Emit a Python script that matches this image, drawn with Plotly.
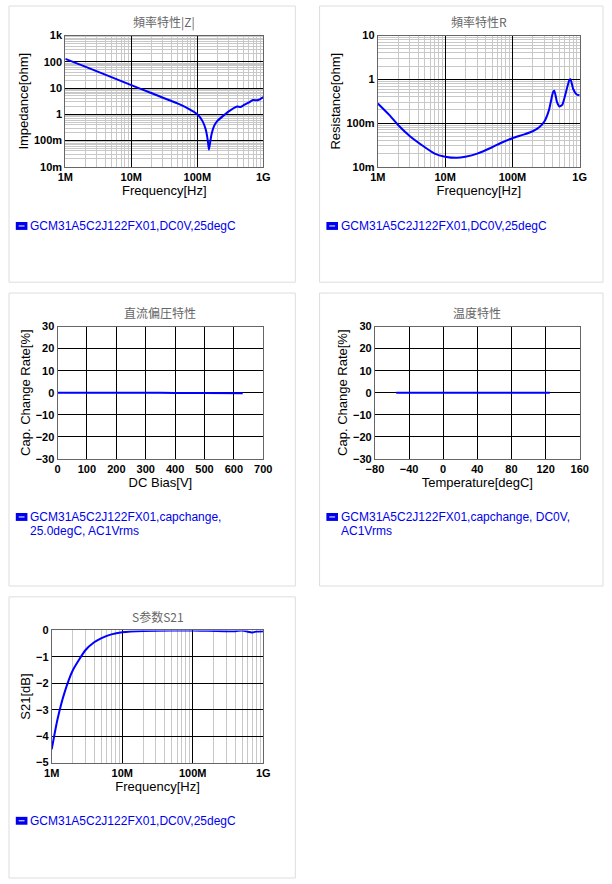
import plotly.graph_objects as go

W, H = 612, 884

z_freq = [1e6, 2e6, 5e6, 1e7, 2e7, 5e7, 8e7, 1e8, 1.2e8, 1.35e8, 1.45e8, 1.5e8, 1.56e8, 1.65e8, 1.8e8, 2e8,
          2.5e8, 3e8, 4e8, 4.5e8, 5e8, 6e8, 7e8, 8e8, 9e8, 1e9]
z_val = [130, 66, 26, 13, 6.5, 2.6, 1.45, 1.0, 0.55, 0.25, 0.09, 0.045, 0.08, 0.18, 0.36, 0.55,
         0.9, 1.3, 2.0, 1.9, 2.2, 2.8, 3.5, 3.4, 3.8, 4.5]

r_freq = [1e6, 1.5e6, 2e6, 3e6, 5e6, 7e6, 1e7, 1.5e7, 2e7, 3e7, 5e7, 7e7, 1e8, 1.5e8, 2e8,
          2.5e8, 3e8, 3.5e8, 4e8, 4.2e8, 4.6e8, 5e8, 5.5e8, 6e8, 7e8, 7.3e8, 8e8, 9e8, 1e9]
r_val = [0.28, 0.15, 0.09, 0.05, 0.028, 0.02, 0.017, 0.016, 0.017, 0.02, 0.028, 0.036, 0.045,
         0.055, 0.065, 0.08, 0.11, 0.2, 0.5, 0.55, 0.3, 0.24, 0.26, 0.4, 0.95, 1.0, 0.6, 0.45, 0.43]

dc_bias = [0, 100, 200, 300, 400, 500, 630]
dc_rate = [0, 0, -0.02, -0.05, -0.1, -0.15, -0.25]

temp = [-55, 0, 25, 60, 125]
temp_rate = [0, 0, 0, 0, 0]

s_freq = [1e6, 1.2e6, 1.5e6, 2e6, 3e6, 4e6, 5e6, 7e6, 1e7, 2e7, 5e7, 1e8, 4e8, 5e8, 7e8, 8e8, 1e9]
s_val = [-4.5, -3.4, -2.4, -1.5, -0.75, -0.45, -0.3, -0.15, -0.07, -0.02, -0.005, 0, -0.03, 0,
         -0.08, -0.04, -0.03]

freq_ticks = [1e6, 1e7, 1e8, 1e9]
freq_text = ["1M", "10M", "100M", "1G"]

# panel plot areas in pixels: x0, x1, y0, y1
panels = [
    dict(box=(58, 262, 30, 163), x=z_freq, y=z_val, title="頻率特性|Z|", xt="Frequency[Hz]", yt="Impedance[ohm]",
         card=(0, 295, 0, 280), leg=["GCM31A5C2J122FX01,DC0V,25degC"], ly=223),
    dict(box=(380, 588, 30, 163), x=r_freq, y=r_val, title="頻率特性R", xt="Frequency[Hz]", yt="Resistance[ohm]",
         card=(320, 612, 0, 280), leg=["GCM31A5C2J122FX01,DC0V,25degC"], ly=223),
    dict(box=(50, 262, 325, 459), x=dc_bias, y=dc_rate, title="直流偏圧特性", xt="DC Bias[V]", yt="Cap. Change Rate[%]",
         card=(0, 295, 291, 588), leg=["GCM31A5C2J122FX01,capchange,", "25.0degC, AC1Vrms"], ly=518),
    dict(box=(377, 588, 325, 459), x=temp, y=temp_rate, title="温度特性", xt="Temperature[degC]", yt="Cap. Change Rate[%]",
         card=(320, 612, 291, 588), leg=["GCM31A5C2J122FX01,capchange, DC0V,", "AC1Vrms"], ly=518),
    dict(box=(44, 262, 633, 767), x=s_freq, y=s_val, title="S参数S21", xt="Frequency[Hz]", yt="S21[dB]",
         card=(0, 295, 599, 884), leg=["GCM31A5C2J122FX01,DC0V,25degC"], ly=826),
]

fig = go.Figure()
font = "Liberation Sans, Arial, sans-serif"
shapes, annots = [], []
tickfont = dict(family=font, size=11, color="black", weight="bold")

for i, p in enumerate(panels):
    n = "" if i == 0 else str(i + 1)
    x0, x1, y0, y1 = p["box"]
    fig.add_trace(go.Scatter(x=p["x"], y=p["y"], mode="lines", line=dict(color="#0000ff", width=2, shape="spline", smoothing=0.5),
                             xaxis="x" + n, yaxis="y" + n, showlegend=False, hoverinfo="skip"))
    xa = dict(domain=[x0 / W, x1 / W], anchor="y" + n, showline=True, linecolor="#666", linewidth=1, mirror=True,
              gridcolor="black", gridwidth=1, tickfont=tickfont, ticks="", zeroline=False,
              title=dict(text=p["xt"], font=dict(family=font, size=13, color="black"), standoff=0))
    ya = dict(domain=[1 - y1 / H, 1 - y0 / H], anchor="x" + n, showline=True, linecolor="#666", linewidth=1, mirror=True,
              gridcolor="black", gridwidth=1, tickfont=tickfont, ticks="", zeroline=False,
              title=dict(text=p["yt"], font=dict(family=font, size=13, color="black"), standoff=2))
    minor = dict(dtick="D1", showgrid=True, gridcolor="#c8c8c8", gridwidth=1)
    if i in (0, 1, 4):
        xa.update(type="log", range=[6, 9], tickvals=freq_ticks, ticktext=freq_text, minor=minor)
    if i == 0:
        ya.update(type="log", range=[-2, 3], tickvals=[0.01, 0.1, 1, 10, 100, 1000],
                  ticktext=["10m", "100m", "1", "10", "100", "1k"], minor=minor)
    elif i == 1:
        ya.update(type="log", range=[-2, 1], tickvals=[0.01, 0.1, 1, 10],
                  ticktext=["10m", "100m", "1", "10"], minor=minor)
    elif i == 2:
        xa.update(range=[0, 700], dtick=100)
        ya.update(range=[-30, 30], dtick=10)
    elif i == 3:
        xa.update(range=[-80, 160], dtick=40)
        ya.update(range=[-30, 30], dtick=10)
    else:
        ya.update(range=[-5, 0], dtick=1)
    fig.layout["xaxis" + n] = xa
    fig.layout["yaxis" + n] = ya

    cx0, cx1, cy0, cy1 = p["card"]
    shapes.append(dict(type="rect", xref="paper", yref="paper", x0=cx0 / W, x1=cx1 / W, y0=1 - cy1 / H, y1=1 - cy0 / H,
                       line=dict(color="#dddddd", width=1), layer="below"))
    annots.append(dict(text=p["title"], xref="paper", yref="paper", x=(x0 + x1) / 2 / W, y=1 - (y0 - 14) / H,
                       xanchor="center", yanchor="middle", showarrow=False,
                       font=dict(family="Noto Sans CJK SC", size=12, color="#666666")))
    lx = cx0 + 7
    ly = p["ly"]
    shapes.append(dict(type="rect", xref="paper", yref="paper", x0=lx / W, x1=(lx + 12) / W,
                       y0=1 - (ly + 4) / H, y1=1 - (ly - 4) / H, fillcolor="#0000ee", line=dict(width=0)))
    shapes.append(dict(type="line", xref="paper", yref="paper", x0=(lx + 3) / W, x1=(lx + 9) / W,
                       y0=1 - ly / H, y1=1 - ly / H, line=dict(color="white", width=1)))
    for k, t in enumerate(p["leg"]):
        annots.append(dict(text=t, xref="paper", yref="paper", x=(lx + 13) / W, y=1 - (ly + k * 14) / H,
                           xanchor="left", yanchor="middle", showarrow=False,
                           font=dict(family=font, size=12, color="#0000ee")))

fig.update_layout(width=W, height=H, margin=dict(l=0, r=0, t=0, b=0), plot_bgcolor="white",
                  paper_bgcolor="white", shapes=shapes, annotations=annots)

fig.write_html("out.html", config={"displayModeBar": False}, post_script="document.body.style.margin='0';")
